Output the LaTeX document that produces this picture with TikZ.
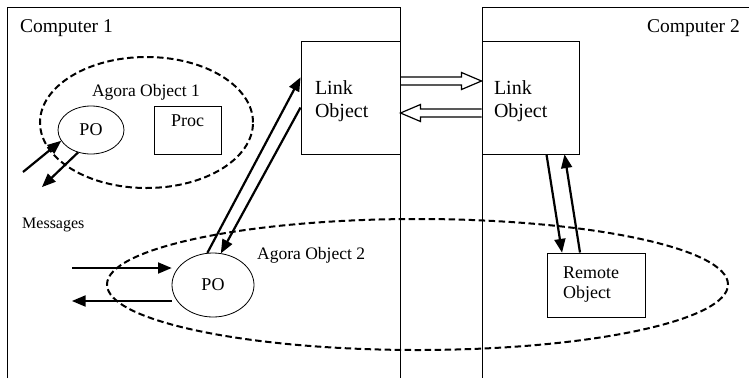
\documentclass[tikz,border=0pt]{standalone}
\usepackage{fontspec}
\setmainfont{Liberation Serif}
\usetikzlibrary{arrows}
\usetikzlibrary{calc}
\usetikzlibrary{shapes.geometric}

\newcommand{\drawHollowArrow}[2]{
	\draw[hollow] let
		\p1 = (#1), \p2 = (#2),
		\p3 = ($(#2)!20pt!(#1)$)
		in
		(\x1,\y1+4pt) -- (\x3,\y1+4pt) -- (\x3,\y1+8.5pt) -- (\p2) -- (\x3,\y1-8.5pt) -- (\x3,\y1-4pt) -- (\x1,\y1-4pt);
}

\tikzset{
	frame/.style={line width=1pt},
	box/.style={draw, rectangle, line width=1pt, align=left, inner ysep=0pt, font=\fontsize{20}{23}\selectfont},
	po/.style={draw, ellipse, line width=0.8pt, inner sep=0pt, font=\fontsize{18}{20}\selectfont},
	agora/.style={draw, ellipse, line width=2pt, dash pattern=on 6.5pt off 3.5pt, inner sep=0pt},
	lbl/.style={inner sep=0pt, font=\fontsize{18}{20}\selectfont},
	msg/.style={->, line width=2.2pt},
	hollow/.style={line width=1.2pt}
}

\begin{document}
\begin{tikzpicture}[x=1pt, y=-1pt, >=triangle 45]
		\useasboundingbox (0,0) rectangle (749,378);

		% the two computers
		\draw[frame] (7,378) -- (7,7) -- (400,7) -- (400,378);
		\draw[frame] (749,7) -- (482,7) -- (482,378);
		\node[lbl, anchor=west, font=\fontsize{19.5}{21}\selectfont] (compA) at (20,28) {Computer 1};
		\node[lbl, anchor=east, font=\fontsize{19.5}{21}\selectfont] (compB) at (740,28) {Computer 2};

		% agora objects
		\node[agora, minimum width=213pt, minimum height=131pt] (agoraA) at (146.5,122.5) {};
		\node[agora, minimum width=621pt, minimum height=131pt] (agoraB) at (417.5,284.5) {};
		\node[lbl, font=\fontsize{17.5}{20}\selectfont] (agoraAlbl) at (146,92) {Agora Object 1};
		\node[lbl, font=\fontsize{17.5}{20}\selectfont, anchor=west] (agoraBlbl) at (257,255) {Agora Object 2};

		% objects
		\node[po, minimum width=66pt, minimum height=48pt] (poA) at (91,130) {PO};
		\node[box, minimum width=67pt, minimum height=48pt, align=center, text depth=18pt, font=\fontsize{18}{20}\selectfont] (proc) at (187.5,130) {Proc};
		\node[po, minimum width=82pt, minimum height=64pt] (poB) at (213,285) {PO};
		\node[box, minimum height=113pt, text width=71pt, inner xsep=14pt, text height=22pt] (lnkA) at (350.5,97.5) {Link\\Object};
		\node[box, minimum height=113pt, text width=73pt, inner xsep=12pt, text height=22pt] (lnkB) at (530.5,97.5) {Link\\Object};
		\node[box, minimum height=64pt, text width=66pt, inner xsep=16pt, font=\fontsize{18}{20}\selectfont] (remote) at (596,285) {Remote\\Object};

		\node[lbl, anchor=west, font=\fontsize{16}{18}\selectfont] (msgs) at (22,225) {Messages};

		% free ends of the message arrows
		\coordinate (msgInA) at (23,172);
		\coordinate (msgOutA) at (42,187);
		\coordinate (msgInB) at (72,268);
		\coordinate (msgOutB) at (72,301);

		% messages
		\draw[msg] (msgInA) -- (poA.200);
		\draw[msg] (poA.240) -- (msgOutA);
		\draw[msg] (msgInB) -- (msgInB -| poB.west);
		\draw[msg] (msgOutB -| poB.west) -- (msgOutB);

		% links
		\draw[msg] (poB.100) -- ([yshift=20pt]lnkA.west);
		\draw[msg] ([yshift=-10pt]lnkA.west) -- (poB.76);
		\draw[msg] ([xshift=16pt]lnkB.south) -- ([xshift=-34pt]remote.north);
		\draw[msg] ([xshift=-16pt]remote.north) -- ([xshift=34pt]lnkB.south);

		\drawHollowArrow{[yshift=16.5pt]lnkA.east}{[yshift=16.5pt]lnkB.west}
		\drawHollowArrow{[yshift=-15.5pt]lnkB.west}{[yshift=-15.5pt]lnkA.east}

	\end{tikzpicture}
\end{document}
